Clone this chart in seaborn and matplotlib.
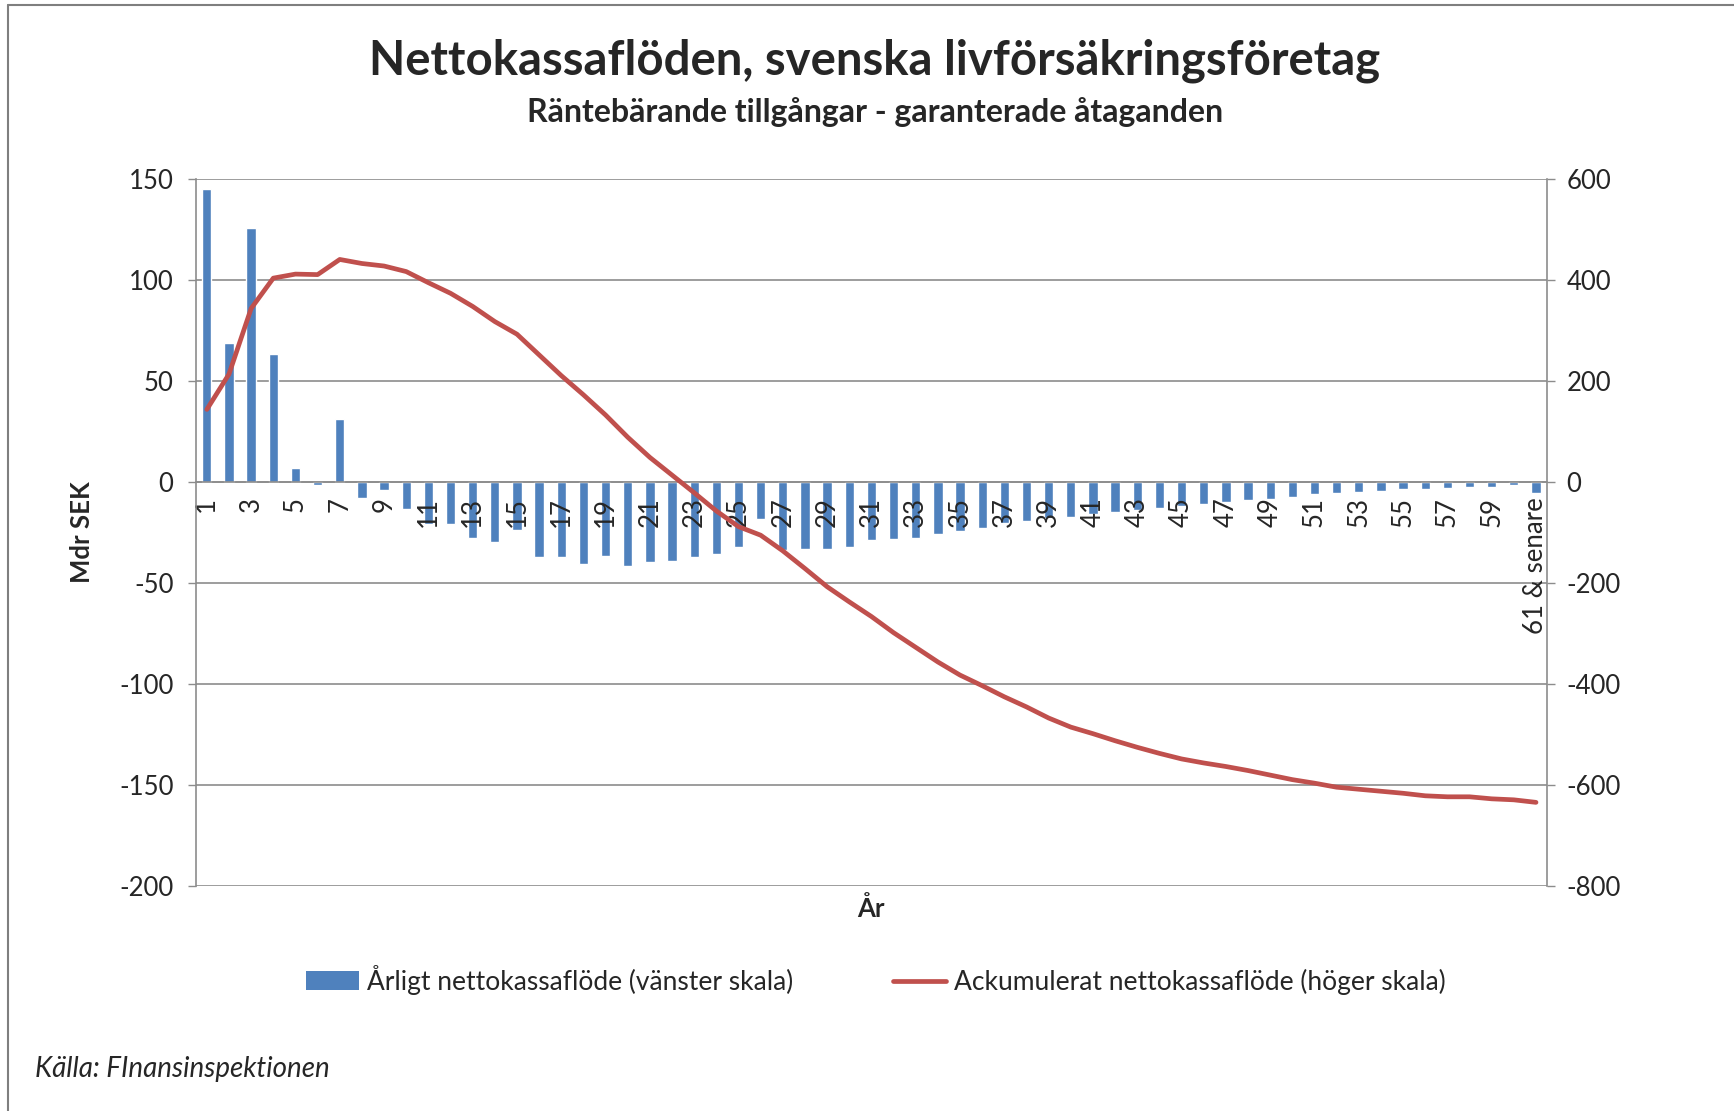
import numpy as np
import pandas as pd
import matplotlib
matplotlib.use("Agg")
import matplotlib.pyplot as plt
import seaborn as sns
from matplotlib.patches import Patch
from matplotlib.lines import Line2D

# Årligt nettokassaflöde, Mdr SEK (vänster skala)
years = list(range(1, 62))
annual = [145, 68.5, 125.5, 63, 7, -1.5, 31, -8, -4, -13.5,
          -21, -21, -28, -30, -24, -37.5, -37.5, -41, -37, -41.5,
          -40, -39.5, -37.5, -36, -32.5, -18.5, -34, -33.5, -33.5, -32.5,
          -29, -28.5, -28, -26, -24.5, -23, -20.5, -19.5, -18, -17.5,
          -16, -15, -14, -13, -12, -11, -10, -9, -8.5, -7.5,
          -6, -5.5, -5, -4.5, -3.5, -3.5, -3, -2.5, -2.5, -1.5,
          -5.5]
# Ackumulerat nettokassaflöde, Mdr SEK (höger skala)
cumulative = [143, 213, 343, 403, 411, 410, 440, 432, 427, 416,
              394, 373, 347, 317, 292, 251, 210, 172, 132, 88,
              48, 13, -22, -58, -89, -106, -137, -172, -208, -238,
              -267, -299, -328, -357, -383, -404, -426, -446, -468, -486,
              -499, -513, -526, -538, -549, -557, -564, -572, -581, -590,
              -597, -605, -609, -613, -617, -622, -624, -624, -628, -630,
              -635]
tick_labels = [str(y) if y % 2 == 1 else "" for y in years[:-1]] + ["61 & senare"]

df = pd.DataFrame({"pos": np.arange(len(years)), "annual": annual, "cum": cumulative})

sns.set_theme(style="white")
plt.rcParams["font.family"] = ["Lato", "DejaVu Sans"]
plt.rcParams["axes.unicode_minus"] = False

blue = "#4F81BD"
red = "#C0504D"
grid_c = "#8C8C8C"
fs = 18.5

fig = plt.figure(figsize=(17.34, 11.11), dpi=100)
ax = fig.add_axes([0.1129, 0.2028, 0.7793, 0.6364])

sns.barplot(data=df, x="pos", y="annual", color=blue, saturation=1, width=0.42, ax=ax)
ax.set_xlim(-0.5, len(years) - 0.5)
ax.set_ylim(-200, 150)
yt = np.arange(-200, 151, 50)
ax.set_yticks(yt)
ax.grid(False)
for v in yt:
    ax.axhline(v, color=grid_c, lw=1.2, zorder=0.5)
# tick labels above the bars (like Excel)
ax.set_axisbelow("line")
ax.set_xlabel("")
ax.set_ylabel("Mdr SEK", fontsize=fs, fontweight="bold")
ax.yaxis.set_label_coords(-0.075, 0.5)

ax.spines["bottom"].set_position(("data", 0))
ax.spines["bottom"].set_color(grid_c)
ax.spines["left"].set_color(grid_c)
ax.spines["top"].set_visible(False)
ax.spines["right"].set_visible(False)
for s in ["bottom", "left"]:
    ax.spines[s].set_linewidth(1.2)

ax2 = ax.twinx()
sns.lineplot(data=df, x="pos", y="cum", color=red, lw=3.4, ax=ax2)
ax2.set_ylim(-800, 600)
ax2.set_yticks(np.arange(-800, 601, 200))
ax2.set_ylabel("")
ax2.set_xlabel("")
ax2.tick_params(axis="y", length=6, color=grid_c, width=1, pad=8, labelsize=fs, right=True)
for s in ["top", "bottom", "left"]:
    ax2.spines[s].set_visible(False)
ax2.spines["right"].set_color(grid_c)
ax2.spines["right"].set_linewidth(1.2)
ax2.grid(False)

# category ticks: labels on every other year, marks between categories
ax.set_xticks(df["pos"])
ax.set_xticklabels(tick_labels)
ax.set_xticks(np.arange(0.5, len(years) - 1, 1), minor=True)
ax.tick_params(axis="x", which="major", length=0, pad=11, labelsize=fs, labelrotation=90)
ax.tick_params(axis="x", which="minor", length=5, color=grid_c, width=1, direction="out")
ax.tick_params(axis="y", length=6, color=grid_c, width=1, pad=10, labelsize=fs, left=True)

fig.text(0.5046, 0.945, "Nettokassaflöden, svenska livförsäkringsföretag",
         ha="center", va="center", fontsize=34, fontweight="bold")
fig.text(0.5046, 0.899, "Räntebärande tillgångar - garanterade åtaganden",
         ha="center", va="center", fontsize=23, fontweight="bold")
fig.text(871 / 1734, 1 - 909 / 1111, "År", ha="center", va="center",
         fontsize=fs, fontweight="bold")
fig.text(35 / 1734, 1 - 1069 / 1111, "Källa: FInansinspektionen", ha="left",
         va="center", fontsize=20, style="italic")

handles = [Patch(facecolor=blue, edgecolor="none"), Line2D([], [], color=red, lw=3.4)]
labels = ["Årligt nettokassaflöde (vänster skala)", "Ackumulerat nettokassaflöde (höger skala)"]
fig.legend(handles, labels, loc="center", bbox_to_anchor=(0.505, 0.118), ncol=2,
           frameon=False, fontsize=19, handlelength=2.0, handletextpad=0.3,
           columnspacing=3.8)

# outer chart frame
fig.add_artist(Line2D([8 / 1734, 8 / 1734], [0, 1 - 5 / 1111], color="#7F7F7F", lw=1.5))
fig.add_artist(Line2D([8 / 1734, 1], [1 - 5 / 1111, 1 - 5 / 1111], color="#7F7F7F", lw=1.5))

fig.savefig("out.png", dpi=100)
